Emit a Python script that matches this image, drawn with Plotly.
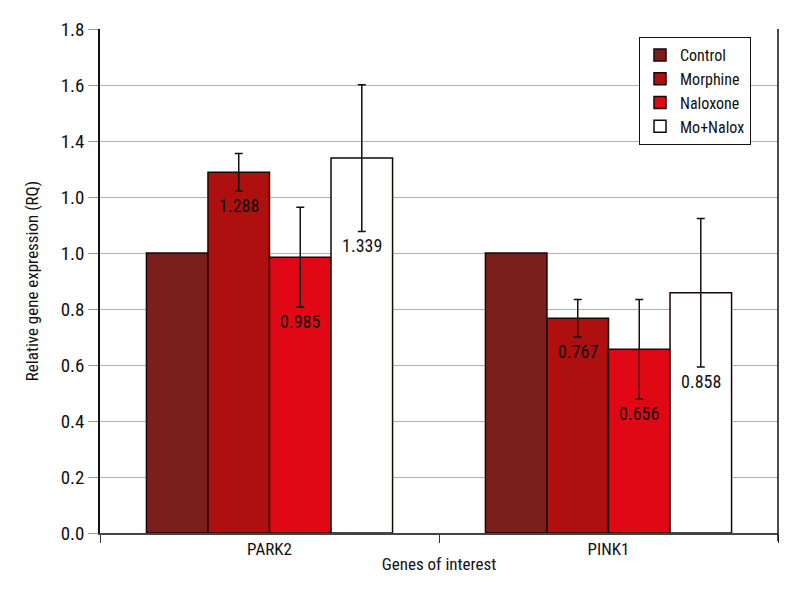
import plotly.graph_objects as go

genes = ["PARK2", "PINK1"]
groups = ["Control", "Morphine", "Naloxone", "Mo+Nalox"]
values = {
    "Control": [1.0, 1.0],
    "Morphine": [1.288, 0.767],
    "Naloxone": [0.985, 0.656],
    "Mo+Nalox": [1.339, 0.858],
}
errors = {
    "Control": [None, None],
    "Morphine": [0.067, 0.067],
    "Naloxone": [0.178, 0.178],
    "Mo+Nalox": [0.262, 0.265],
}
labels = {
    "Control": ["", ""],
    "Morphine": ["1.288", "0.767"],
    "Naloxone": ["0.985", "0.656"],
    "Mo+Nalox": ["1.339", "0.858"],
}
y_tickvals = [0.0, 0.2, 0.4, 0.6, 0.8, 1.0, 1.2, 1.4, 1.6, 1.8]
y_ticktext = ["0.0", "0.2", "0.4", "0.6", "0.8", "1.0", "1.0", "1.4", "1.6", "1.8"]

colors = {
    "Control": "#7a1f1c",
    "Morphine": "#ad100e",
    "Naloxone": "#e10816",
    "Mo+Nalox": "#ffffff",
}
FONT = "Roboto Condensed, Liberation Sans Narrow, sans-serif"

fig = go.Figure()
for g in groups:
    err = errors[g]
    has_err = any(e is not None for e in err)
    fig.add_trace(go.Bar(
        name=g, x=genes, y=values[g],
        marker=dict(color=colors[g], line=dict(color="#1a0606", width=1.5)),
        error_y=dict(type="data", array=[e or 0 for e in err], visible=has_err,
                     color="#111111", thickness=1.5, width=4),
    ))

# value labels sit just under the lower end of each error bar
plot_w = 800 - 92 - 30
bar_px = plot_w / len(genes) * (1 - 0.274) / len(groups)
for i, g in enumerate(groups):
    for j, gene in enumerate(genes):
        if not labels[g][j]:
            continue
        fig.add_annotation(
            x=gene, y=values[g][j] - (errors[g][j] or 0),
            xref="x", yref="y", text=labels[g][j], showarrow=False,
            xshift=(i - 1.5) * bar_px, yanchor="top", yshift=-2,
            font=dict(size=18, color="#111111", family=FONT),
        )

# black border on the right side of the plot
fig.add_shape(type="line", xref="paper", yref="paper", x0=1, x1=1, y0=-0.016, y1=1,
              line=dict(color="#111111", width=1.5))

fig.update_layout(
    width=800, height=600,
    margin=dict(l=92, r=30, t=21, b=75),
    plot_bgcolor="white", paper_bgcolor="white",
    barmode="group", bargap=0.274, bargroupgap=0,
    font=dict(family=FONT, size=17, color="#111111"),
    legend=dict(x=0.795, y=0.984, xanchor="left", yanchor="top",
                bordercolor="#111111", borderwidth=1, bgcolor="white",
                font=dict(size=16), tracegroupgap=0, itemwidth=30),
    xaxis=dict(
        title=dict(text="Genes of interest", standoff=0, font=dict(size=17)),
        showline=True, linecolor="#444444", linewidth=2,
        ticks="outside", tickson="boundaries", ticklen=8, tickcolor="#333333",
        tickfont=dict(size=17), automargin=False,
    ),
    yaxis=dict(
        title=dict(text="Relative gene expression (RQ)", standoff=18, font=dict(size=17)),
        range=[0, 1.8], tickvals=y_tickvals, ticktext=y_ticktext,
        showgrid=True, gridcolor="#b0b0b0", gridwidth=1,
        showline=True, linecolor="#111111", linewidth=1.5,
        ticks="outside", ticklen=10, tickcolor="#999999",
        tickfont=dict(size=19), zeroline=False, automargin=False,
    ),
)

fig.write_html("out.html")
